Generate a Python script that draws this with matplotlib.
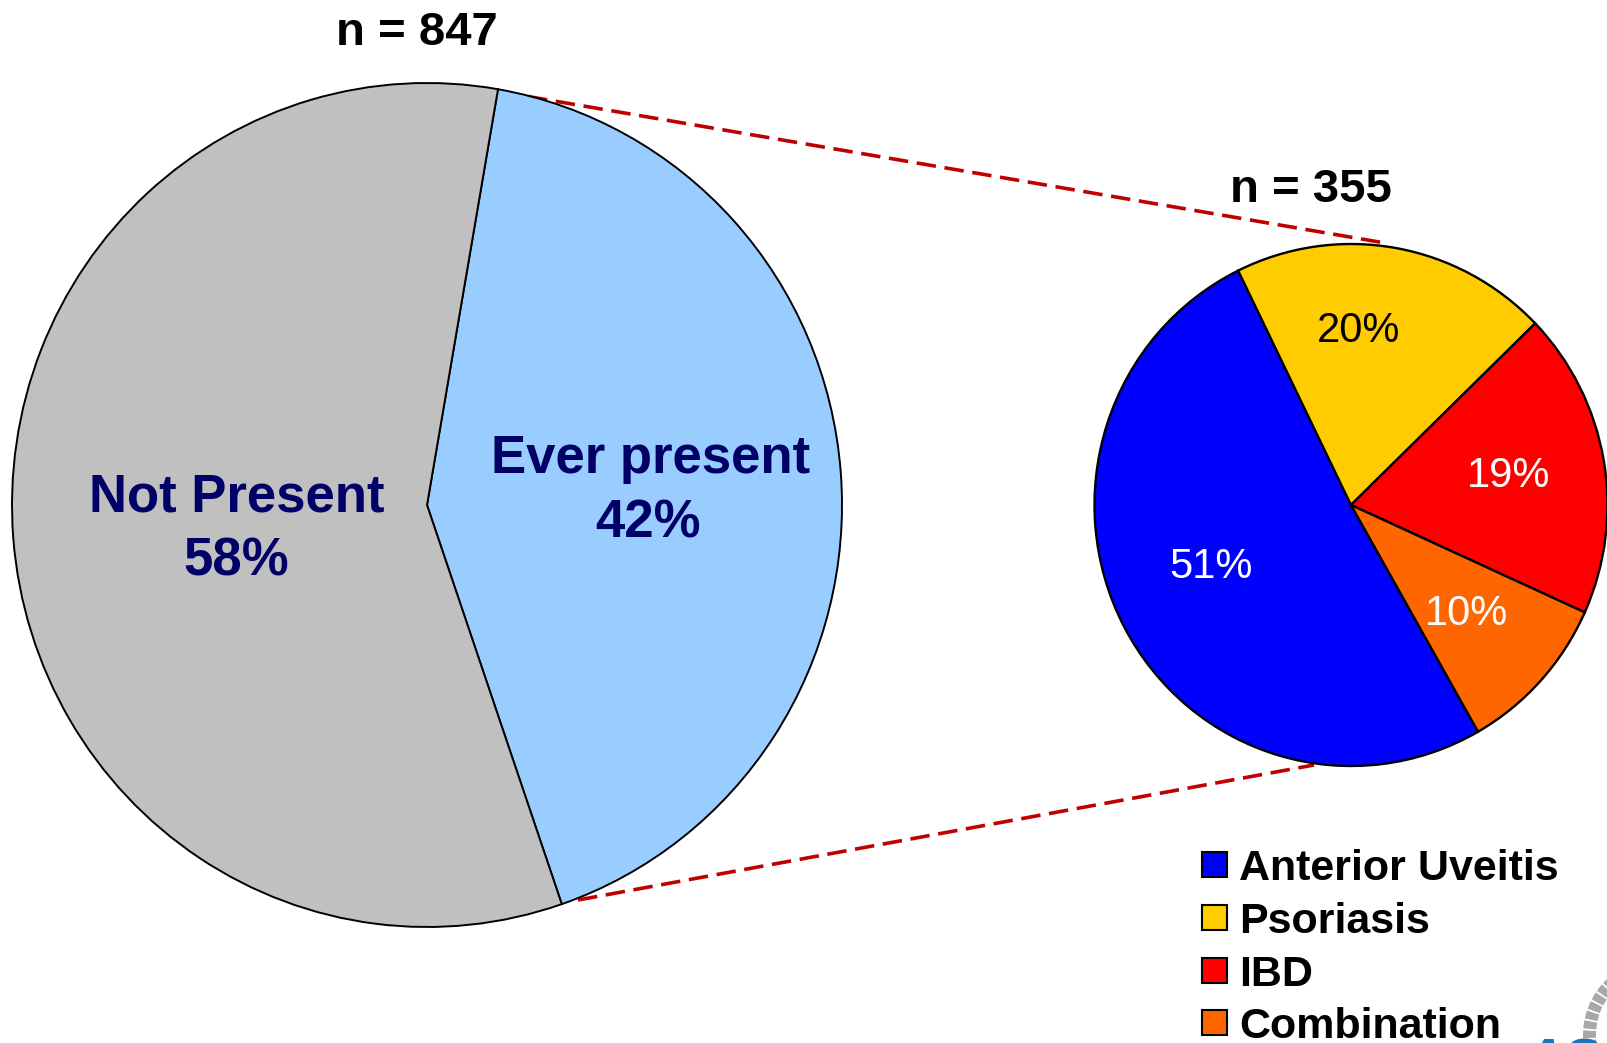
import matplotlib
matplotlib.use("Agg")
import matplotlib.pyplot as plt
from matplotlib.patches import Rectangle, Wedge

plt.rcParams['font.family'] = ['Liberation Sans', 'DejaVu Sans']

# Overall prevalence of extra-articular manifestations
overall_labels = ["Ever present", "Not Present"]
overall_values = [42, 58]
overall_colors = ["#99CCFF", "#C0C0C0"]
overall_n = 847

# Breakdown among patients with a manifestation
detail_labels = ["Anterior Uveitis", "Psoriasis", "IBD", "Combination"]
detail_values = [51, 20, 19, 10]
detail_colors = ["#0000FF", "#FFCC00", "#FF0000", "#FF6600"]
detail_text_colors = ["white", "black", "white", "white"]
detail_n = 355

W, H = 1608, 1043
fig = plt.figure(figsize=(W / 100, H / 100), dpi=100)


def px_axes(left, top, right, bottom):
    return fig.add_axes([left / W, 1 - bottom / H, (right - left) / W, (bottom - top) / H])


def pie_axes(cx, cy, rx, ry, pad=1.05):
    return px_axes(cx - rx * pad, cy - ry * pad, cx + rx * pad, cy + ry * pad)


# background layer: dashed connectors drawn behind the pies
bg = px_axes(0, 0, W, H)
bg.set_xlim(0, W)
bg.set_ylim(H, 0)
bg.axis('off')
conn = dict(color="#C00000", lw=2.6, dashes=(5.4, 2.4), solid_capstyle='butt')
bg.plot([528, 1385], [96.5, 243], **conn)
bg.plot([578, 1314], [900, 765], **conn)

# large pie
ax1 = pie_axes(427, 505, 415, 422)
ax1.pie(overall_values, colors=overall_colors, startangle=80.15, counterclock=False,
        radius=1, wedgeprops=dict(edgecolor='black', linewidth=1.4))
ax1.set_aspect('auto')
ax1.set_xlim(-1.05, 1.05)
ax1.set_ylim(-1.05, 1.05)

# small pie
ax2 = pie_axes(1351, 505, 256.5, 261)
ax2.pie(detail_values, colors=detail_colors, startangle=-60.3, counterclock=False,
        radius=1, wedgeprops=dict(edgecolor='black', linewidth=1.7))
ax2.set_aspect('auto')
ax2.set_xlim(-1.05, 1.05)
ax2.set_ylim(-1.05, 1.05)

# foreground layer: labels, legend, logo
fg = px_axes(0, 0, W, H)
fg.set_xlim(0, W)
fg.set_ylim(H, 0)
fg.axis('off')
fg.patch.set_visible(False)

fg.text(417, 45, f"n = {overall_n}", ha='center', va='baseline', fontsize=34, fontweight='bold')
fg.text(1311, 202, f"n = {detail_n}", ha='center', va='baseline', fontsize=34, fontweight='bold')

navy = "#000066"
big_kw = dict(ha='center', va='baseline', fontsize=38, fontweight='bold', color=navy)
fg.text(237, 512, overall_labels[1], **big_kw)
fg.text(236, 575, f"{overall_values[1]}%", **big_kw)
fg.text(651, 473, overall_labels[0], **big_kw)
fg.text(648, 538, f"{overall_values[0]}%", **big_kw)

pct_pos = [(1211, 578), (1359, 342), (1509, 487), (1467, 625)]
for (x, y), v, c in zip(pct_pos, detail_values, detail_text_colors):
    fg.text(x, y, f"{v}%", ha='center', va='baseline', fontsize=30, color=c)

# legend
for i, (lab, col) in enumerate(zip(detail_labels, detail_colors)):
    yc = 864.5 + 52.8 * i
    fg.add_patch(Rectangle((1202, yc - 12.5), 25, 25, facecolor=col, edgecolor='black', lw=1.5))
    fg.text(1239, yc + 15.5, lab, ha='left', va='baseline', fontsize=31, fontweight='bold')

# corner logo fragment
fg.add_patch(Rectangle((1506, 990), 110, 60, facecolor='white', edgecolor='none'))
a = 170.0
while a < 242:
    fg.add_patch(Wedge((1660, 1035), 77, a, a + 6.0, width=13, facecolor='#A8A8A8', edgecolor='none'))
    a += 7.5
fg.text(1523, 1077, "ASAS", ha='left', va='baseline', fontsize=40, fontweight='bold',
        fontstyle='italic', color='#1C75BC')

fig.savefig("out.png", dpi=100)
